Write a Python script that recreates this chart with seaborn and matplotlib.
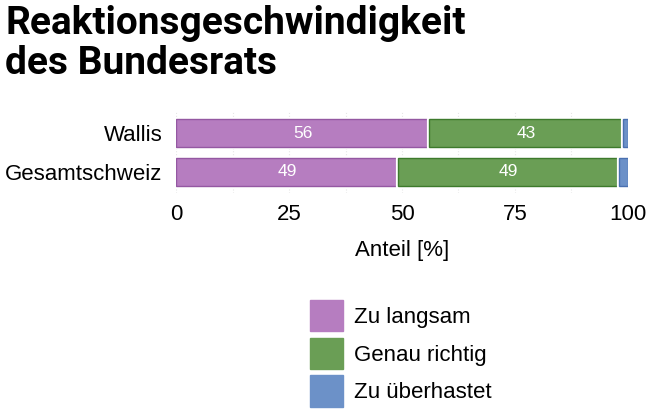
import numpy as np
import pandas as pd
import matplotlib
matplotlib.use('Agg')
import matplotlib.pyplot as plt
import matplotlib.patheffects as pe
from matplotlib.patches import Patch
import seaborn as sns

# Data
regions = ['Wallis', 'Gesamtschweiz']
series = ['Zu langsam', 'Genau richtig', 'Zu überhastet']
zu_langsam = [56, 49]
genau_richtig = [43, 49]
zu_ueberhastet = [1, 2]

colors = ['#b67dc0', '#6a9e55', '#6c91c8']
edges = ['#9458a2', '#3d7a2c', '#4a70b0']

df = pd.DataFrame({'Region': regions, 'Zu langsam': zu_langsam,
                   'Genau richtig': genau_richtig, 'Zu überhastet': zu_ueberhastet})

sns.set_theme(style='white')
plt.rcParams['font.family'] = ['Liberation Sans', 'DejaVu Sans']
plt.rcParams['text.color'] = 'black'
plt.rcParams['axes.labelcolor'] = 'black'

fig = plt.figure(figsize=(6.5, 4.16), dpi=100)
ax = fig.add_axes([0.271, 0.536, 0.695, 0.195])

# Stacked bars
left = np.zeros(len(regions))
for name, c, ec in zip(series, colors, edges):
    sns.barplot(data=df, y='Region', x=name, order=regions, orient='y',
                left=left, color=c, edgecolor=ec, linewidth=1, width=0.73,
                saturation=1, ax=ax, zorder=3)
    left = left + df[name].values

for p in ax.patches:
    p.set_path_effects([pe.Stroke(linewidth=3, foreground='white'), pe.Normal()])

# Value labels
left = np.zeros(len(regions))
for name in series[:2]:
    vals = df[name].values
    for i, v in enumerate(vals):
        ax.text(left[i] + v / 2, i, f'{v}', ha='center', va='center',
                color='white', fontsize=12.5, zorder=5)
    left = left + vals

ax.set_xlim(0, 100)
ax.set_ylim(1.55, -0.55)
ax.set_xticks([0, 25, 50, 75, 100])
ax.set_xticks(np.arange(0, 101, 12.5), minor=True)
ax.grid(True, axis='x', which='both', color='#e6e6e6', linestyle=':', linewidth=0.8, zorder=0)
ax.tick_params(axis='both', length=0, labelsize=16, colors='black')
ax.tick_params(axis='x', pad=8)
ax.tick_params(axis='y', pad=10)
ax.set_ylabel('')
ax.set_xlabel('Anteil [%]', fontsize=16, labelpad=11)
for s in ax.spines.values():
    s.set_visible(False)

# Legend
handles = [Patch(facecolor=c, edgecolor=c) for c in colors]
fig.legend(handles, series, loc='upper left', bbox_to_anchor=(310 / 650, 1 - 300 / 416),
           frameon=False, fontsize=16, handlelength=1.5, handleheight=1.8,
           labelspacing=0.28, handletextpad=0.5, borderpad=0, borderaxespad=0)

# Title
fig.text(0.008, 0.988, 'Reaktionsgeschwindigkeit\ndes Bundesrats', ha='left', va='top',
         fontsize=28, fontweight='bold', family=['Roboto', 'DejaVu Sans'],
         color='black', linespacing=1.1)

fig.savefig('out.png', dpi=100)
